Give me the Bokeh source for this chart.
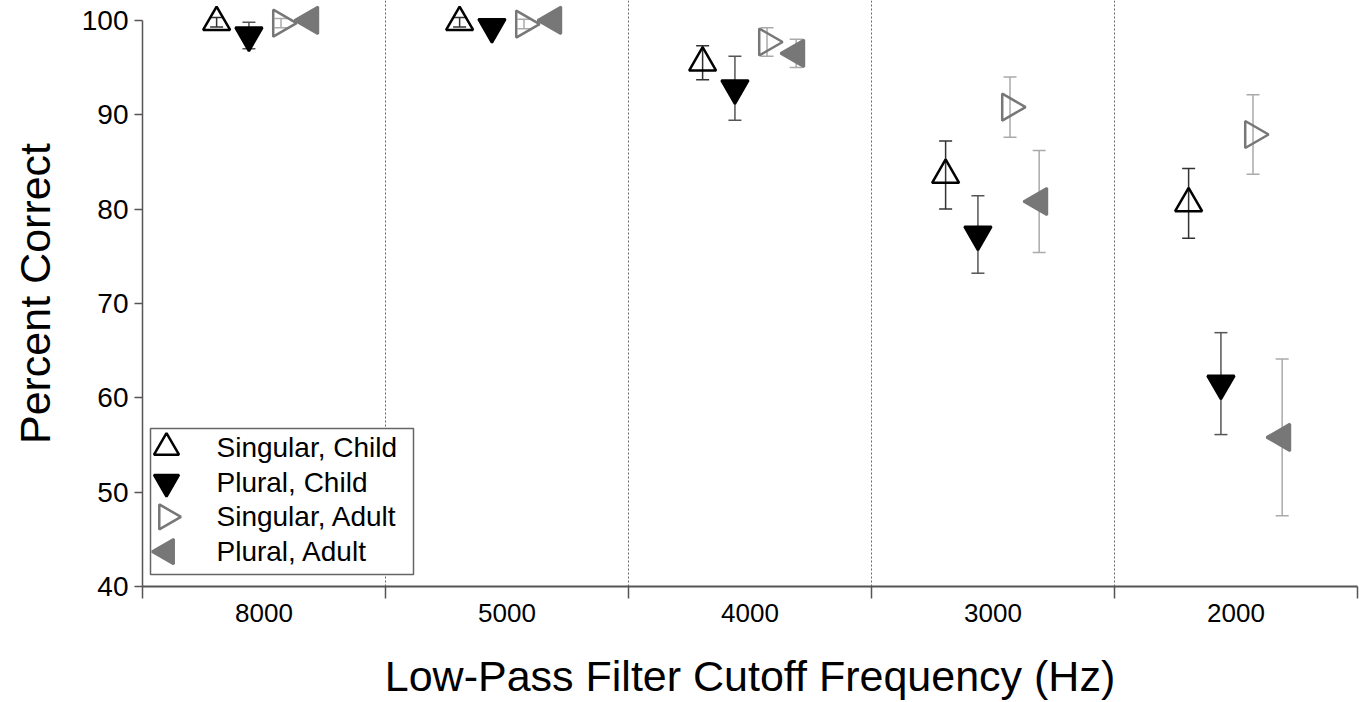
import numpy as np
from bokeh.plotting import figure
from bokeh.models import ColumnDataSource, Whisker, TeeHead, FixedTicker, Range1d
from bokeh.core.properties import value
from bokeh.embed import file_html
from bokeh.resources import INLINE

# ---- data ----
categories = ["8000", "5000", "4000", "3000", "2000"]
series_names = ["Singular, Child", "Plural, Child", "Singular, Adult", "Plural, Adult"]
singular_child = [99.8, 99.8, 95.5, 83.6, 80.6]
singular_child_err = [0.5, 0.5, 1.8, 3.6, 3.7]
plural_child = [98.4, 99.3, 92.8, 77.3, 61.5]
plural_child_err = [1.4, 0.0, 3.4, 4.1, 5.4]
singular_adult = [99.7, 99.6, 97.7, 90.8, 87.9]
singular_adult_err = [0.5, 0.5, 1.5, 3.2, 4.2]
plural_adult = [100.0, 100.0, 96.5, 80.8, 55.8]
plural_adult_err = [0.0, 0.0, 1.5, 5.4, 8.3]
y_ticks = [40, 50, 60, 70, 80, 90, 100]

FONT = "Liberation Sans"
FRAME_W, FRAME_H = 1215, 586

p = figure(width=1363, height=702, output_backend="svg", toolbar_location=None,
           x_range=Range1d(0, len(categories)), y_range=Range1d(40, 102.1),
           min_border_left=142, min_border_right=6, min_border_top=0, min_border_bottom=116)
p.outline_line_color = None
p.background_fill_color = "white"
# pixel-space ranges used only to place the legend box
p.extra_x_ranges["px"] = Range1d(0, FRAME_W)
p.extra_y_ranges["px"] = Range1d(0, FRAME_H)

idx = np.arange(len(categories)) + 0.5
offsets = [-0.195, -0.062, 0.07, 0.19]
styles = [
    # marker, angle, fill, line, errorbar colour
    ("triangle", 0.0, None, "black", "#333333"),
    ("inverted_triangle", 0.0, "black", "black", "#555555"),
    ("triangle", -np.pi / 2, None, "#777777", "#aaaaaa"),
    ("triangle", np.pi / 2, "#777777", "#777777", "#aaaaaa"),
]
values = [singular_child, plural_child, singular_adult, plural_adult]
errors = [singular_child_err, plural_child_err, singular_adult_err, plural_adult_err]

for vals, errs, (marker, ang, fill, line, ecol), off in zip(values, errors, styles, offsets):
    v = np.array(vals)
    e = np.array(errs)
    src = ColumnDataSource(dict(x=idx + off, y=v, lo=v - e, hi=v + e))
    w = Whisker(source=src, base="x", upper="hi", lower="lo", dimension="height",
                line_color=ecol, line_width=1.5, level="glyph",
                upper_head=TeeHead(size=13, line_color=ecol, line_width=1.5),
                lower_head=TeeHead(size=13, line_color=ecol, line_width=1.5))
    p.add_layout(w)
    p.scatter("x", "y", source=src, marker=marker, angle=ang, size=27,
              fill_color=fill, line_color=line, line_width=2.5, level="overlay")

# ---- legend (drawn in pixel space of the frame) ----
p.quad(left=[8], right=[271], bottom=[12], top=[158], fill_color="white",
       line_color="#666666", line_width=1.5,
       x_range_name="px", y_range_name="px", level="overlay")
row_y = 139 - 34.7 * np.arange(len(series_names))
for name, (marker, ang, fill, line, ecol), yy in zip(series_names, styles, row_y):
    p.scatter(x=[24], y=[yy], marker=marker, angle=ang, size=25,
              fill_color=fill, line_color=line, line_width=2.5,
              x_range_name="px", y_range_name="px", level="overlay")
    p.text(x=[74], y=[yy], text=[name], text_font=value(FONT), text_font_size="28px",
           text_baseline="middle", text_align="left", text_color="black",
           x_range_name="px", y_range_name="px", level="overlay")

# x axis
p.xaxis.ticker = FixedTicker(ticks=list(idx), minor_ticks=list(range(len(categories) + 1)))
p.xaxis.major_label_overrides = {float(i): c for i, c in zip(idx, categories)}
p.xaxis.major_tick_out = 0
p.xaxis.major_tick_in = 0
p.xaxis.minor_tick_out = 12
p.xaxis.minor_tick_in = 0
p.xaxis.axis_line_width = 2
p.xaxis.axis_line_color = "#555555"
p.xaxis.minor_tick_line_color = "#555555"
p.xaxis.minor_tick_line_width = 1.5
p.xaxis.major_label_text_font = FONT
p.xaxis.major_label_text_font_size = "26px"
p.xaxis.major_label_text_color = "black"
p.xaxis.major_label_standoff = 5
p.xaxis.axis_label = "Low-Pass Filter Cutoff Frequency (Hz)"
p.xaxis.axis_label_text_font = FONT
p.xaxis.axis_label_text_font_size = "43px"
p.xaxis.axis_label_text_font_style = "normal"
p.xaxis.axis_label_text_color = "black"
p.xaxis.axis_label_standoff = 27

# y axis
p.yaxis.ticker = FixedTicker(ticks=y_ticks)
p.yaxis.bounds = (40, 100)
p.yaxis.major_tick_out = 8
p.yaxis.major_tick_in = 0
p.yaxis.minor_tick_out = 0
p.yaxis.axis_line_color = "#555555"
p.yaxis.axis_line_width = 1.5
p.yaxis.major_tick_line_color = "#555555"
p.yaxis.major_tick_line_width = 1.5
p.yaxis.major_label_text_font = FONT
p.yaxis.major_label_text_font_size = "28px"
p.yaxis.major_label_text_color = "black"
p.yaxis.major_label_standoff = 6
p.yaxis.axis_label = "Percent Correct"
p.yaxis.axis_label_text_font = FONT
p.yaxis.axis_label_text_font_size = "43px"
p.yaxis.axis_label_text_font_style = "normal"
p.yaxis.axis_label_text_color = "black"
p.yaxis.axis_label_standoff = 20

# grids
p.ygrid.grid_line_color = None
p.xgrid.ticker = FixedTicker(ticks=list(range(1, len(categories) + 1)))
p.xgrid.grid_line_color = "#666666"
p.xgrid.grid_line_dash = "2 2"
p.xgrid.grid_line_width = 1

open("out.html", "w").write(file_html(p, INLINE))
